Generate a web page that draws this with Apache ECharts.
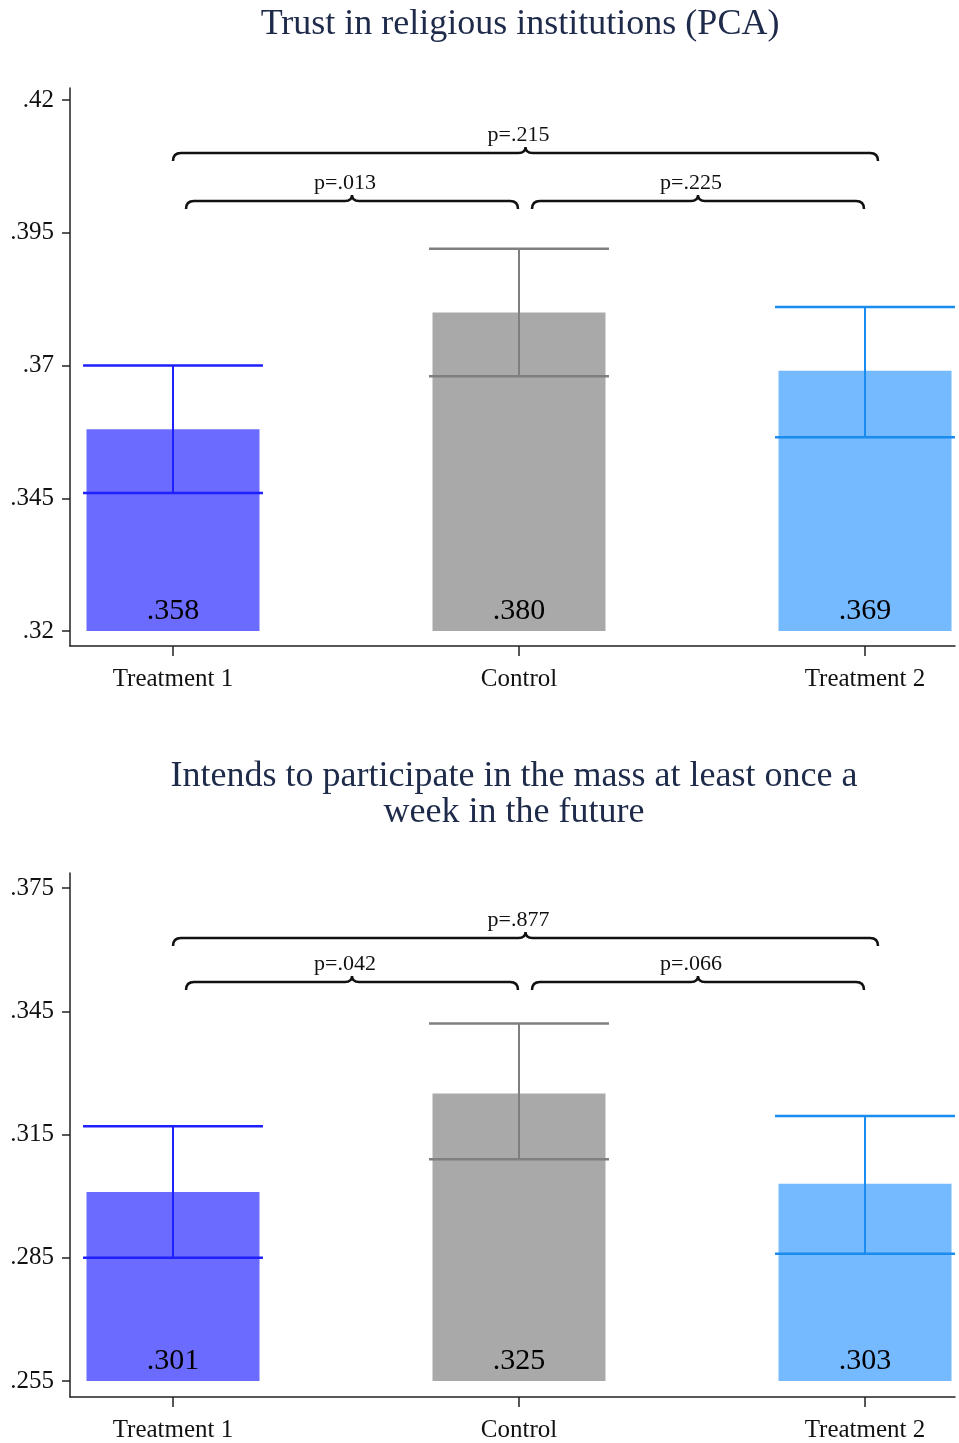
<!DOCTYPE html>
<html>
<head>
<meta charset="utf-8">
<title>Trust and mass attendance</title>
<script src="https://cdn.jsdelivr.net/npm/echarts@6/dist/echarts.min.js"></script>
<style>
  html, body { margin: 0; padding: 0; background: #fff; }
  #chart { width: 959px; height: 1443px; }
</style>
</head>
<body>
<div id="chart"></div>
<script>
// data
const categories = ['Treatment 1', 'Control', 'Treatment 2'];

const trustMeans = [0.358, 0.380, 0.369];
const trustLow = [0.346, 0.368, 0.3565];
const trustHigh = [0.370, 0.392, 0.381];
const trustTicks = [0.32, 0.345, 0.37, 0.395, 0.42];
// [from category, to category, p label]
const trustPairs = [[0, 2, 'p=.215'], [0, 1, 'p=.013'], [1, 2, 'p=.225']];

const massMeans = [0.301, 0.325, 0.303];
const massLow = [0.285, 0.309, 0.286];
const massHigh = [0.317, 0.342, 0.3195];
const massTicks = [0.255, 0.285, 0.315, 0.345, 0.375];
const massPairs = [[0, 2, 'p=.877'], [0, 1, 'p=.042'], [1, 2, 'p=.066']];

const serif = '"Liberation Serif", "Times New Roman", serif';
const barColors = ['#6b6bff', '#a9a9a9', '#75b9ff'];
const ciColors = ['#1f1fff', '#7f7f7f', '#1a8cf0'];

// tick labels: .42, .395 ...
function fmtTick(v) {
  return String(+v.toFixed(3)).replace(/^0/, '');
}
// bar labels keep 3 digits: .380
function fmtMean(v) {
  return v.toFixed(3).replace(/^0/, '');
}

function barSeries(idx, means, low, high, base) {
  return {
    type: 'custom',
    xAxisIndex: idx,
    yAxisIndex: idx,
    clip: false,
    data: means.map((m, i) => [i + 1, m, low[i], high[i]]),
    renderItem: function (params, api) {
      const i = params.dataIndex;
      const x = api.value(0);
      const top = api.coord([x, api.value(1)]);
      const bot = api.coord([x, base]);
      const lo = api.coord([x, api.value(2)]);
      const hi = api.coord([x, api.value(3)]);
      const bw = api.size([0.5, 0])[0];
      const cw = api.size([0.52, 0])[0];
      return {
        type: 'group',
        children: [
          { type: 'rect', shape: { x: top[0] - bw / 2, y: top[1], width: bw, height: bot[1] - top[1] },
            style: { fill: barColors[i] } },
          { type: 'line', shape: { x1: lo[0], y1: lo[1], x2: hi[0], y2: hi[1] },
            style: { stroke: ciColors[i], lineWidth: 2 } },
          { type: 'line', shape: { x1: hi[0] - cw / 2, y1: hi[1], x2: hi[0] + cw / 2, y2: hi[1] },
            style: { stroke: ciColors[i], lineWidth: 2.5 } },
          { type: 'line', shape: { x1: lo[0] - cw / 2, y1: lo[1], x2: lo[0] + cw / 2, y2: lo[1] },
            style: { stroke: ciColors[i], lineWidth: 2.5 } },
          { type: 'text', x: bot[0], y: bot[1] - 20,
            style: { text: fmtMean(means[i]), fill: '#000', font: '30px ' + serif, align: 'center', verticalAlign: 'middle' } }
        ]
      };
    }
  };
}

function bracketSeries(idx, pairs, outerY, innerY) {
  return {
    type: 'custom',
    xAxisIndex: idx,
    yAxisIndex: idx,
    clip: false,
    data: pairs.map(p => [p[0] + 1, p[1] + 1]),
    renderItem: function (params, api) {
      const outer = params.dataIndex === 0;
      const lvl = outer ? outerY : innerY;
      const a = api.coord([api.value(0), lvl]);
      const b = api.coord([api.value(1), lvl]);
      let x1 = a[0], x2 = b[0];
      if (outer) { x2 += 13; } else { x1 += 13; x2 -= 1; }
      const y = a[1];
      const xm = (x1 + x2) / 2;
      const d = 'M' + x1 + ',' + (y + 8) + ' Q' + x1 + ',' + y + ' ' + (x1 + 8) + ',' + y +
        ' L' + (xm - 7) + ',' + y + ' Q' + xm + ',' + y + ' ' + xm + ',' + (y - 6) +
        ' Q' + xm + ',' + y + ' ' + (xm + 7) + ',' + y +
        ' L' + (x2 - 8) + ',' + y + ' Q' + x2 + ',' + y + ' ' + x2 + ',' + (y + 8);
      return {
        type: 'group',
        children: [
          { type: 'path', shape: { pathData: d }, style: { fill: null, stroke: '#111', lineWidth: 2.5 } },
          { type: 'text', x: xm - 7, y: y - 18,
            style: { text: pairs[params.dataIndex][2], fill: '#111', font: '22px ' + serif, align: 'center', verticalAlign: 'middle' } }
        ]
      };
    }
  };
}

function xAxis(idx) {
  return {
    type: 'value', gridIndex: idx, min: 0.7023, max: 3.2601,
    axisLine: { onZero: false, lineStyle: { color: '#222', width: 1.5 } },
    axisTick: { customValues: [1, 2, 3], length: 10, lineStyle: { color: '#222', width: 1.5 } },
    axisLabel: { customValues: [1, 2, 3], margin: 21, color: '#111', fontFamily: serif, fontSize: 25,
      formatter: v => categories[Math.round(v) - 1] },
    splitLine: { show: false }
  };
}

function yAxis(idx, ticks, min, max) {
  return {
    type: 'value', gridIndex: idx, min: min, max: max,
    axisLine: { show: true, onZero: false, lineStyle: { color: '#222', width: 1.5 } },
    axisTick: { show: true, customValues: ticks, length: 8, lineStyle: { color: '#222', width: 1.5 } },
    axisLabel: { customValues: ticks, margin: 16, color: '#111', fontFamily: serif, fontSize: 25,
      formatter: v => fmtTick(v) },
    splitLine: { show: false }
  };
}

const chart = echarts.init(document.getElementById('chart'), null, { renderer: 'canvas' });
chart.setOption({
  backgroundColor: '#fff',
  animation: false,
  title: [
    { text: 'Trust in religious institutions (PCA)', left: 515, top: 2, textAlign: 'center',
      textStyle: { fontFamily: serif, fontSize: 36, fontWeight: 'normal', color: '#1e2a4a' } },
    { text: 'Intends to participate in the mass at least once a\nweek in the future', left: 509, top: 754, textAlign: 'center',
      textStyle: { fontFamily: serif, fontSize: 36, fontWeight: 'normal', color: '#1e2a4a', lineHeight: 36 } }
  ],
  grid: [
    { left: 70, right: 4, top: 88, height: 558 },
    { left: 70, right: 4, top: 873, height: 524 }
  ],
  xAxis: [xAxis(0), xAxis(1)],
  yAxis: [
    yAxis(0, trustTicks, 0.31718, 0.42226),
    yAxis(1, massTicks, 0.25111, 0.37865)
  ],
  series: [
    barSeries(0, trustMeans, trustLow, trustHigh, trustTicks[0]),
    bracketSeries(0, trustPairs, 0.410, 0.401),
    barSeries(1, massMeans, massLow, massHigh, massTicks[0]),
    bracketSeries(1, massPairs, 0.3628, 0.3521)
  ]
});
</script>
</body>
</html>
